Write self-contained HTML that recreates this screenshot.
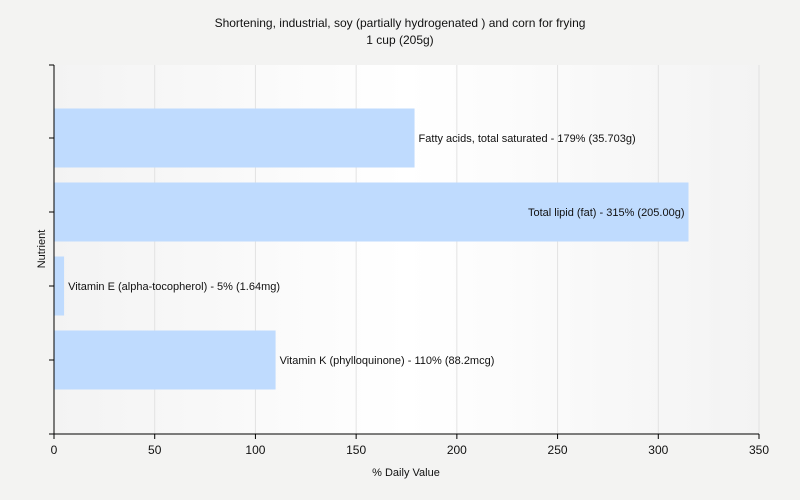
<!DOCTYPE html>
<html><head><meta charset="utf-8"><style>
body{margin:0;background:#f3f3f2;font-family:"Liberation Sans",sans-serif;}
svg{display:block}
text{font-family:"Liberation Sans",sans-serif;fill:#111}
</style></head><body>
<svg id="chart" width="800" height="500">
<defs><linearGradient id="bg" x1="0" x2="1" y1="0" y2="0">
<stop offset="0" stop-color="#f3f3f3"/><stop offset="0.5" stop-color="#ffffff"/><stop offset="1" stop-color="#f3f3f3"/></linearGradient></defs>
<text x="400" y="27" text-anchor="middle" font-size="12">Shortening, industrial, soy (partially hydrogenated ) and corn for frying</text>
<text x="400" y="44" text-anchor="middle" font-size="12">1 cup (205g)</text>
<rect x="54" y="65" width="705" height="369" fill="url(#bg)"/>
<g id="grid"></g><g id="bars"></g><g id="axes"></g>
<text x="406" y="476" text-anchor="middle" font-size="11">% Daily Value</text>
<text transform="translate(45,249) rotate(-90)" text-anchor="middle" font-size="11">Nutrient</text>
</svg>
<script>
const categories=["Fatty acids, total saturated","Total lipid (fat)","Vitamin E (alpha-tocopherol)","Vitamin K (phylloquinone)"];
const values=[179,315,5,110];
const amounts=["35.703g","205.00g","1.64mg","88.2mcg"];
const xTicks=[0,50,100,150,200,250,300,350];
const NS="http://www.w3.org/2000/svg";
const X0=54,X1=759,Y0=65,Y1=434;
const x=v=>X0+(v-0)/(350-0)*(X1-X0);
const band=74,top0=101;
const yc=i=>top0+band*i+band/2;
function mk(t,a,p){const e=document.createElementNS(NS,t);for(const k in a)e.setAttribute(k,a[k]);p.appendChild(e);return e;}
const grid=document.getElementById('grid'),bars=document.getElementById('bars'),axes=document.getElementById('axes');
xTicks.forEach(t=>{
 if(t>0){const g=mk('line',{x1:x(t),x2:x(t),y1:Y0,y2:Y1,stroke:'#e2e2e2'},grid);
 
 }
 const tk=mk('line',{x1:x(t),x2:x(t),y1:Y1,y2:Y1+5,stroke:'#000'},axes);
 
 
 const l=mk('text',{x:x(t),y:Y1+20,'text-anchor':'middle','font-size':12},axes);l.textContent=t;
 
 
});
categories.forEach((c,i)=>{
 const b=mk('rect',{x:x(0),y:yc(i)-29.5,width:x(values[i])-x(0),height:59,fill:'#bfdbfe'},bars);
 
 
 const txt=c+' - '+values[i]+'% ('+amounts[i]+')';
 const inside=values[i]>250;
 const l=mk('text',{x:inside?x(values[i])-4:x(values[i])+4,y:yc(i)+4,'text-anchor':inside?'end':'start','font-size':11},bars);
 l.textContent=txt;
 
 
});
const yt=mk('line',{x1:X0-5,x2:X0,y1:Y0,y2:Y0,stroke:'#000'},axes);


[0,1,2,3].forEach(i=>{
 const t=mk('line',{x1:X0-5,x2:X0,y1:yc(i),y2:yc(i),stroke:'#000'},axes);
 
 
});
const ya=mk('line',{x1:X0,x2:X0,y1:Y0,y2:Y1,stroke:'#000'},axes);


const xa=mk('line',{x1:X0-5,x2:X1,y1:Y1,y2:Y1,stroke:'#000'},axes);


</script>
</body></html>
